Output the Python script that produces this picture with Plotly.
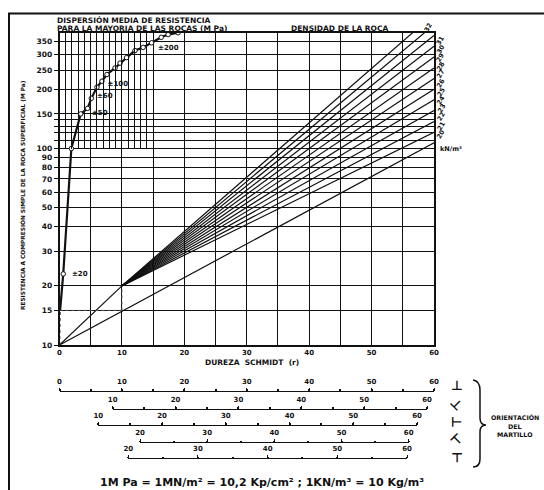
import math
import plotly.graph_objects as go

W, H = 544, 490


def fx(p):
    return p / W


def fy(p):
    return 1 - p / H


# ---------------- data ----------------
schmidt_ticks = [0, 10, 20, 30, 40, 50, 60]
ucs_ticks = [10, 15, 20, 30, 40, 50, 60, 70, 80, 90, 100, 150, 200, 250, 300, 350]
ucs_extra_grid = [110, 120, 130, 140]

# dispersion curve (Schmidt-axis position, MPa)
disp_R = [0.1, 0.6, 1.9, 3.4, 4.5, 5.1, 6.0, 6.8, 7.6, 8.9, 9.7, 10.75, 12.1, 13.4, 14.75, 16.3, 17.4, 19.0]
disp_MPa = [15, 23, 100, 150, 160, 180, 205, 220, 238, 257, 272, 290, 315, 327, 345, 368, 380, 388]
disp_start_R = [0, 0.1]
disp_start_MPa = [10, 15]
disp_labels = ["±20", "±50", "±60", "±100", "±200"]
disp_lab_R = [2.0, 5.2, 6.0, 7.7, 15.8]
disp_lab_MPa = [23, 151, 185, 212, 323]

# density lines (kN/m3)
densities = [20, 21, 22, 23, 24, 25, 26, 27, 28, 29, 30, 31, 32]
dens_end_MPa = [107, 121, 137, 156, 177, 200, 227, 257, 292, 331, 376, 426, 483]  # value at R = 60
fan_R0, fan_MPa0 = 10, 20          # convergence point of the fan
low_R0, low_MPa0 = 0, 10           # origin of the lowest line
upper_R = [0, 10]
upper_MPa = [10, 20]
guide_h_R, guide_h_MPa = [0, 10], [15, 15]
guide_v_R, guide_v_MPa = [10, 10], [15, 20]

# hammer-orientation scales
scale_starts = [0, 10, 10, 20, 20]
scale_end = 60
hammer_angles = [0, 45, 90, 135, 180]

# ---------------- figure ----------------
fig = go.Figure()
BLK = "#111111"
FONT = "DejaVu Sans"

fig.add_trace(go.Scatter(x=[low_R0, 60], y=[low_MPa0, dens_end_MPa[0]], mode="lines",
                         line=dict(color=BLK, width=1.2), hoverinfo="skip"))
for d, e in zip(densities[1:], dens_end_MPa[1:]):
    fig.add_trace(go.Scatter(x=[fan_R0, 60], y=[fan_MPa0, e], mode="lines",
                             line=dict(color=BLK, width=1.2), hoverinfo="skip", name=str(d)))
fig.add_trace(go.Scatter(x=upper_R, y=upper_MPa, mode="lines",
                         line=dict(color=BLK, width=1.2), hoverinfo="skip"))
for gx, gy in [(guide_h_R, guide_h_MPa), (guide_v_R, guide_v_MPa)]:
    fig.add_trace(go.Scatter(x=gx, y=gy, mode="lines",
                             line=dict(color="#555", width=1, dash="dot"), hoverinfo="skip"))
fig.add_trace(go.Scatter(x=disp_start_R, y=disp_start_MPa, mode="lines",
                         line=dict(color="#444", width=1.5, dash="dot"), hoverinfo="skip"))
fig.add_trace(go.Scatter(x=disp_R, y=disp_MPa, mode="lines",
                         line=dict(color=BLK, width=2.2), hoverinfo="skip"))
fig.add_trace(go.Scatter(x=disp_R[1:], y=disp_MPa[1:], mode="markers",
                         marker=dict(symbol="circle", size=4.5, color="white",
                                     line=dict(color=BLK, width=1)), hoverinfo="skip"))
fig.add_trace(go.Scatter(x=disp_lab_R, y=disp_lab_MPa, mode="text", text=disp_labels,
                         textposition="middle right",
                         textfont=dict(family=FONT, size=7, color=BLK, weight="bold"),
                         hoverinfo="skip"))

fig.add_trace(go.Scatter(x=[None], y=[None], xaxis="x7", yaxis="y7", hoverinfo="skip"))
for i in range(5):
    fig.add_trace(go.Scatter(x=[None], y=[None], xaxis=f"x{i+2}", yaxis=f"y{i+2}", hoverinfo="skip"))

x0p, x60p = 59.5, 434.0
ybot, ytop = 345.0, 33.0
top_val = 10 ** (1 + (ybot - ytop) / 196.5)

ytickvals = ucs_ticks + ucs_extra_grid
yticktext = [str(v) for v in ucs_ticks] + ["" for _ in ucs_extra_grid]

layout = dict(
    width=W, height=H, margin=dict(l=0, r=0, t=0, b=0, autoexpand=False),
    paper_bgcolor="white", plot_bgcolor="rgba(0,0,0,0)", showlegend=False,
    font=dict(family=FONT, color=BLK),
    xaxis=dict(domain=[fx(x0p), fx(x60p)], range=[0, 60], anchor="y",
               tickvals=schmidt_ticks, ticks="", showgrid=True, gridcolor=BLK, gridwidth=1.3,
               minor=dict(dtick=5, tick0=0, showgrid=True, gridcolor=BLK, gridwidth=1.3),
               showline=True, mirror=True, linecolor=BLK, linewidth=1.5, zeroline=False,
               tickfont=dict(size=7, weight="bold"), ticklabelstandoff=0),
    yaxis=dict(domain=[fy(ybot), fy(ytop)], type="log", range=[1, math.log10(top_val)], anchor="x",
               tickmode="array", tickvals=ytickvals, ticktext=yticktext,
               ticks="outside", ticklen=4, tickcolor=BLK, tickwidth=1.3,
               showgrid=True, gridcolor=BLK, gridwidth=1.3,
               showline=True, mirror=True, linecolor=BLK, linewidth=1.5, zeroline=False,
               tickfont=dict(size=7.5, weight="bold")),
    xaxis7=dict(domain=[fx(x0p), fx(x0p + 15 * (x60p - x0p) / 60)], range=[0, 15], anchor="y7",
                dtick=1, showgrid=True, gridcolor=BLK, gridwidth=1, showticklabels=False,
                ticks="", zeroline=False, showline=False),
    yaxis7=dict(domain=[fy(ybot - 196.5), fy(ytop)], type="log", range=[2, math.log10(top_val)],
                anchor="x7", showgrid=False, showticklabels=False, ticks="", zeroline=False,
                showline=False),
)

scale_lines_y = [391.7, 410.0, 426.0, 443.3, 459.3]
scale_x_start = [59.5, 112.7, 98.3, 140.0, 128.3]
scale_x_end = [434.0, 427.0, 417.0, 408.7, 407.0]
for i in range(5):
    n = i + 2
    ly = scale_lines_y[i]
    layout[f"yaxis{n}"] = dict(domain=[fy(ly + 3), fy(ly)], range=[0, 1], visible=False,
                               anchor=f"x{n}")
    layout[f"xaxis{n}"] = dict(domain=[fx(scale_x_start[i]), fx(scale_x_end[i])],
                               range=[scale_starts[i], scale_end], anchor=f"y{n}", side="top",
                               showline=True, linecolor=BLK, linewidth=1.3,
                               tickmode="array",
                               tickvals=list(range(scale_starts[i], scale_end + 1, 10)),
                               ticks="outside", ticklen=3, tickwidth=1.2, tickcolor=BLK,
                               minor=dict(dtick=5, tick0=0, ticks="outside", ticklen=1.5,
                                          tickwidth=1.5, tickcolor=BLK, showgrid=False),
                               showgrid=False, zeroline=False,
                               tickfont=dict(size=7, weight="bold"), ticklabelstandoff=1)

fig.update_layout(**layout)

ann = []


def txt(x, y, s, size=8, xanchor="left", angle=0, yanchor="middle"):
    ann.append(dict(x=fx(x), y=fy(y), xref="paper", yref="paper", text=s, showarrow=False,
                    xanchor=xanchor, yanchor=yanchor, textangle=angle,
                    font=dict(family=FONT, size=size, color=BLK, weight="bold")))


txt(55, 20, "DISPERSIÓN MEDIA DE RESISTENCIA", 7.5)
txt(55, 28, "PARA LA MAYORIA DE LAS ROCAS (M Pa)", 7.5)
txt(289, 28, "DENSIDAD DE LA ROCA", 7.5)
txt(22, 195, "RESISTENCIA A COMPRESIÓN SIMPLE DE LA ROCA SUPERFICIAL (M Pa)", 5.8,
    xanchor="center", angle=-90)
txt(252, 362, "DUREZA  SCHMIDT  (r)", 7.5, xanchor="center")
txt(262, 482, "1M Pa = 1MN/m² = 10,2 Kp/cm² ; 1KN/m³ = 10 Kg/m³", 11, xanchor="center")
txt(515, 417, "ORIENTACIÓN", 6.3, xanchor="center")
txt(515, 426, "DEL", 6.3, xanchor="center")
txt(515, 434, "MARTILLO", 6.3, xanchor="center")
txt(438, 149, "kN/m³", 6.5)

dens_label_y = [134, 125.5, 117, 108.5, 100, 91.5, 83, 74.5, 66, 57.5, 49, 40.5, 28]
dens_label_x = [441] * 12 + [428]
for d, yy, xx in zip(densities, dens_label_y, dens_label_x):
    txt(xx, yy, str(d), 6.5, xanchor="center", angle=-60)

icon_y = [385, 404, 422, 440, 458]
for a, yy in zip(hammer_angles, icon_y):
    txt(457, yy, "⊥", 13, xanchor="center", angle=a)

fig.update_layout(annotations=ann)

shapes = [
    dict(type="line", xref="paper", yref="paper", x0=fx(8), x1=1, y0=fy(13.5), y1=fy(13.5),
         line=dict(color=BLK, width=2)),
    dict(type="line", xref="paper", yref="paper", x0=fx(9), x1=fx(9), y0=fy(13.5), y1=0,
         line=dict(color=BLK, width=2)),
]


def P(x, y):
    return f"{fx(x):.5f},{fy(y):.5f}"


brace = (f"M {P(473,380)} Q {P(480,381)} {P(480,390)} L {P(480,418)} "
         f"Q {P(480,425)} {P(486,425)} Q {P(480,425)} {P(480,432)} "
         f"L {P(480,459)} Q {P(480,467)} {P(473,467)}")
shapes.append(dict(type="path", xref="paper", yref="paper", path=brace,
                   line=dict(color=BLK, width=1.5)))
fig.update_layout(shapes=shapes)

fig.write_html("out.html", config={"displayModeBar": False},
               post_script="document.body.style.margin='0px';")
